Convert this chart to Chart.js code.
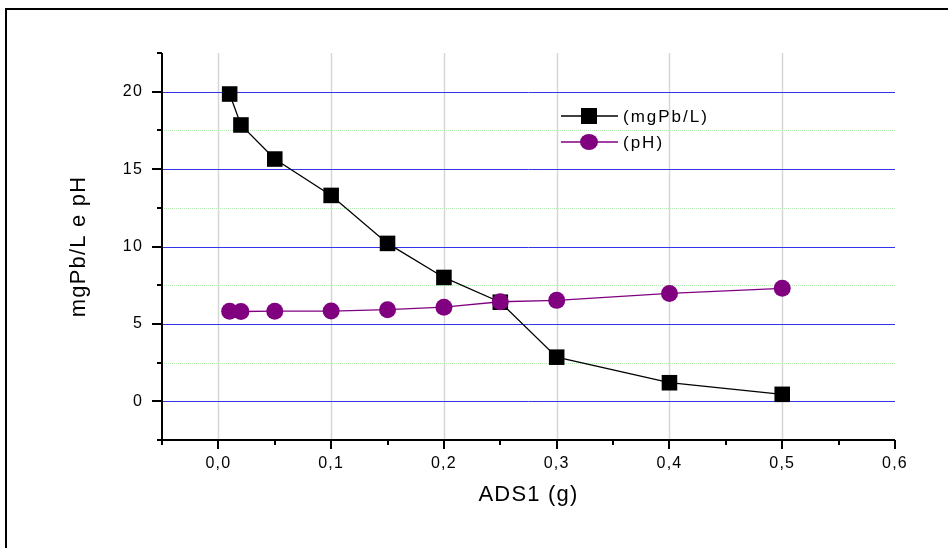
<!DOCTYPE html>
<html>
    <head>
        <meta charset="utf-8">
        <title>ADS1 - mgPb/L e pH</title>
        <script src="https://cdnjs.cloudflare.com/ajax/libs/Chart.js/4.4.1/chart.umd.min.js"></script>
        <style>
            html, body { margin: 0; padding: 0; background: #ffffff; }
            #wrap { width: 948px; height: 548px; position: relative; }
        </style>
    </head>
    <body>
        <div id="wrap">
            <canvas id="adsChart" width="948" height="548"></canvas>
        </div>

        <script>
            // DATA VALUES
            const doses = [0.01, 0.02, 0.05, 0.1, 0.15, 0.2, 0.25, 0.3, 0.4, 0.5];
            const leadMgL = [19.85, 17.85, 15.65, 13.3, 10.2, 8.0, 6.4, 2.85, 1.2, 0.45];
            const phValues = [5.82, 5.8, 5.82, 5.83, 5.92, 6.08, 6.43, 6.52, 6.97, 7.3];
            const seriesNames = ["(mgPb/L)", "(pH)"];

            // AXIS LIMITS / TICK STEPS
            const xMin = -0.05, xMax = 0.6, xStep = 0.05;
            const yMin = -2.5, yMax = 22.5, yStep = 2.5;

            const FONT = "'Liberation Sans', Arial, sans-serif";
            const PURPLE = "#800080";

            function toPoints(values) {
                return doses.map((d, i) => ({x: d, y: values[i]}));
            }

            // x labels every 0.1, with a comma as decimal mark
            function xLabel(v) {
                const k = Math.round(v * 100);
                if (k < 0 || k % 10 !== 0) return "";
                return (k / 100).toFixed(1).replace(".", ",");
            }
            function yLabel(v) {
                const k = Math.round(v * 10);
                if (k < 0 || k > 200 || k % 50 !== 0) return "";
                return String(k / 10);
            }

            // GRID + AXES + TICK MARKS (drawn through the chart's own scales)
            const frameAndGrid = {
                id: "frameAndGrid",
                beforeDraw(chart) {
                    const ctx = chart.ctx;
                    ctx.letterSpacing = "1.2px";
                    // outer frame, right/bottom run off the picture
                    ctx.save();
                    ctx.strokeStyle = "#000";
                    ctx.lineWidth = 2;
                    ctx.strokeRect(6, 9, 960, 560);
                    ctx.restore();
                },
                beforeDatasetsDraw(chart) {
                    const ctx = chart.ctx;
                    const xs = chart.scales.x, ys = chart.scales.y;
                    const a = chart.chartArea;
                    ctx.save();
                    // vertical gray lines
                    ctx.strokeStyle = "#d6d6d6";
                    ctx.lineWidth = 1.5;
                    xs.ticks.forEach(t => {
                        const k = Math.round(t.value * 100);
                        if (k < 0 || k > 50 || k % 10 !== 0) return;
                        const px = Math.round(xs.getPixelForValue(t.value)) + 0.5;
                        ctx.beginPath();
                        ctx.moveTo(px, a.top);
                        ctx.lineTo(px, a.bottom);
                        ctx.stroke();
                    });
                    // horizontal lines: blue majors, green dotted minors
                    ys.ticks.forEach(t => {
                        const k = Math.round(t.value * 10);
                        if (k <= -25 || k >= 225) return;
                        const py = Math.round(ys.getPixelForValue(t.value)) + 0.5;
                        if (k % 50 === 0) {
                            ctx.strokeStyle = "#3434e8";
                            ctx.setLineDash([]);
                        } else {
                            ctx.strokeStyle = "#b4f0b4";
                            ctx.setLineDash([1, 1]);
                        }
                        ctx.lineWidth = 1;
                        ctx.beginPath();
                        ctx.moveTo(a.left, py);
                        ctx.lineTo(a.right, py);
                        ctx.stroke();
                    });
                    ctx.restore();
                },
                afterDraw(chart) {
                    const ctx = chart.ctx;
                    const xs = chart.scales.x, ys = chart.scales.y;
                    const a = chart.chartArea;
                    ctx.save();
                    ctx.strokeStyle = "#000";
                    ctx.lineWidth = 2;
                    ctx.setLineDash([]);
                    // axis lines
                    ctx.beginPath();
                    ctx.moveTo(a.left, a.top);
                    ctx.lineTo(a.left, a.bottom);
                    ctx.lineTo(a.right, a.bottom);
                    ctx.stroke();
                    // x tick marks, pointing down
                    xs.ticks.forEach(t => {
                        const k = Math.round(t.value * 100);
                        const len = (k % 10 === 0) ? 9 : 5;
                        const px = Math.round(xs.getPixelForValue(t.value));
                        ctx.beginPath();
                        ctx.moveTo(px, a.bottom);
                        ctx.lineTo(px, a.bottom + len);
                        ctx.stroke();
                    });
                    // y tick marks, pointing left
                    ys.ticks.forEach(t => {
                        const k = Math.round(t.value * 10);
                        const len = (k % 50 === 0) ? 10 : 5;
                        const py = Math.round(ys.getPixelForValue(t.value));
                        ctx.beginPath();
                        ctx.moveTo(a.left, py);
                        ctx.lineTo(a.left - len, py);
                        ctx.stroke();
                    });
                    ctx.restore();
                }
            };

            // LEGEND: line - marker - line, then the name
            const lineLegend = {
                id: "lineLegend",
                afterDraw(chart) {
                    const ctx = chart.ctx;
                    const a = chart.chartArea;
                    const x0 = a.left + 399;
                    const rows = [a.top + 63, a.top + 89];
                    ctx.save();
                    ctx.letterSpacing = "2px";
                    chart.data.datasets.forEach((ds, i) => {
                        const y = rows[i];
                        ctx.strokeStyle = ds.borderColor;
                        ctx.lineWidth = 1.5;
                        ctx.beginPath();
                        ctx.moveTo(x0, y);
                        ctx.lineTo(x0 + 57, y);
                        ctx.stroke();
                        ctx.fillStyle = ds.pointBackgroundColor;
                        if (ds.pointStyle === "rect") {
                            ctx.fillRect(x0 + 20, y - 8, 16, 16);
                        } else {
                            ctx.beginPath();
                            ctx.ellipse(x0 + 28, y, 9, 8, 0, 0, Math.PI * 2);
                            ctx.fill();
                        }
                        ctx.fillStyle = "#000";
                        ctx.font = "17px " + FONT;
                        ctx.textBaseline = "middle";
                        ctx.textAlign = "left";
                        ctx.fillText(ds.label, x0 + 62, y + 1);
                    });
                    ctx.restore();
                }
            };

            // CONFIG
            const config = {
                type: "scatter",
                data: {
                    datasets: [{
                        label: seriesNames[0],
                        data: toPoints(leadMgL),
                        showLine: true,
                        borderColor: "#000000",
                        borderWidth: 1.3,
                        pointStyle: "rect",
                        pointRadius: 11,
                        pointBorderWidth: 0,
                        pointBackgroundColor: "#000000",
                        order: 1
                    }, {
                        label: seriesNames[1],
                        data: toPoints(phValues),
                        showLine: true,
                        borderColor: PURPLE,
                        borderWidth: 1.3,
                        pointStyle: "circle",
                        pointRadius: 8.5,
                        pointBorderWidth: 0,
                        pointBackgroundColor: PURPLE,
                        order: 0
                    }]
                },
                options: {
                    responsive: false,
                    animation: false,
                    layout: {
                        padding: {top: 53, right: 53, bottom: 0, left: 0}
                    },
                    plugins: {
                        legend: {display: false},
                        tooltip: {enabled: false}
                    },
                    scales: {
                        x: {
                            type: "linear",
                            min: xMin,
                            max: xMax,
                            grid: {display: false, drawTicks: false},
                            border: {display: false},
                            afterFit: s => { s.height = 108; },
                            ticks: {
                                stepSize: xStep,
                                autoSkip: false,
                                maxRotation: 0,
                                padding: 14,
                                color: "#000",
                                font: {family: FONT, size: 16},
                                callback: v => xLabel(v)
                            },
                            title: {
                                display: true,
                                text: "ADS1 (g)",
                                color: "#000",
                                font: {family: FONT, size: 22},
                                padding: {top: 0, bottom: 40}
                            }
                        },
                        y: {
                            min: yMin,
                            max: yMax,
                            grid: {display: false, drawTicks: false},
                            border: {display: false},
                            afterFit: s => { s.width = 162; },
                            ticks: {
                                stepSize: yStep,
                                autoSkip: false,
                                padding: 19,
                                color: "#000",
                                font: {family: FONT, size: 16},
                                callback: v => yLabel(v)
                            },
                            title: {
                                display: true,
                                text: "mgPb/L e pH",
                                color: "#000",
                                font: {family: FONT, size: 22},
                                padding: {top: 66, bottom: 0}
                            }
                        }
                    }
                },
                plugins: [frameAndGrid, lineLegend]
            };

            const adsChart = new Chart("adsChart", config);
        </script>
    </body>
</html>
